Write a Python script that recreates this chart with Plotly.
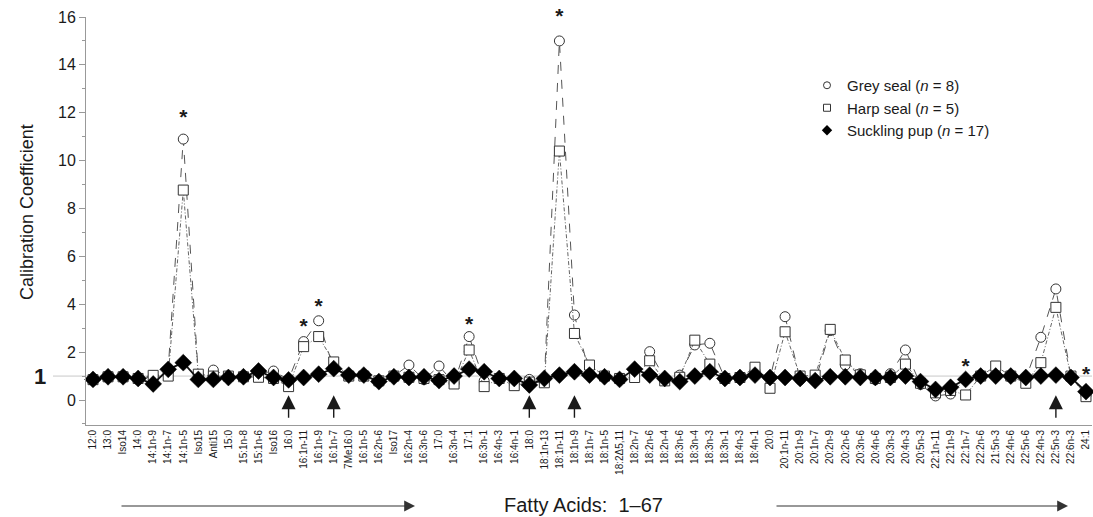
import plotly.graph_objects as go

fatty_acids = ["12:0", "13:0", "Iso14", "14:0", "14:1n-9", "14:1n-7", "14:1n-5", "Iso15", "Anti15", "15:0",
               "15:1n-8", "15:1n-6", "Iso16", "16:0", "16:1n-11", "16:1n-9", "16:1n-7", "7Me16:0", "16:1n-5", "16:2n-6",
               "Iso17", "16:2n-4", "16:3n-6", "17:0", "16:3n-4", "17:1", "16:3n-1", "16:4n-3", "16:4n-1", "18:0",
               "18:1n-13", "18:1n-11", "18:1n-9", "18:1n-7", "18:1n-5", "18:2Δ5,11", "18:2n-7", "18:2n-6", "18:2n-4", "18:3n-6",
               "18:3n-4", "18:3n-3", "18:3n-1", "18:4n-3", "18:4n-1", "20:0", "20:1n-11", "20:1n-9", "20:1n-7", "20:2n-9",
               "20:2n-6", "20:3n-6", "20:4n-6", "20:3n-3", "20:4n-3", "20:5n-3", "22:1n-11", "22:1n-9", "22:1n-7", "22:2n-6",
               "21:5n-3", "22:4n-6", "22:5n-6", "22:4n-3", "22:5n-3", "22:6n-3", "24:1"]

grey_seal = [0.85, 0.97, 0.97, 0.85, 1.0, 1.3, 10.9, 1.05, 1.25, 1.0,
             0.97, 1.1, 1.21, 0.85, 2.44, 3.31, 1.3, 1.0, 1.0, 0.75,
             1.0, 1.46, 0.85, 1.42, 0.7, 2.65, 0.8, 0.9, 0.7, 0.86,
             0.8, 15.0, 3.55, 1.1, 1.0, 0.9, 1.1, 2.02, 0.9, 1.04,
             2.3, 2.37, 0.9, 0.94, 1.2, 0.92, 3.48, 0.85, 0.8, 2.9,
             1.46, 1.1, 0.85, 1.1, 2.09, 0.65, 0.17, 0.25, 0.86, 1.0,
             1.1, 1.0, 0.9, 2.62, 4.64, 1.0, 0.2]

harp_seal = [0.85, 0.97, 0.97, 0.9, 1.03, 1.0, 8.77, 1.08, 1.0, 1.0,
             0.97, 0.95, 0.9, 0.56, 2.23, 2.65, 1.59, 1.0, 1.0, 0.8,
             1.0, 0.95, 0.9, 0.85, 0.67, 2.09, 0.56, 0.9, 0.6, 0.75,
             0.72, 10.4, 2.78, 1.46, 1.0, 0.9, 0.94, 1.64, 0.8, 0.95,
             2.5, 1.5, 0.9, 0.94, 1.37, 0.49, 2.85, 1.0, 1.04, 2.95,
             1.67, 1.05, 0.9, 0.94, 1.5, 0.7, 0.3, 0.4, 0.21, 1.0,
             1.42, 1.0, 0.7, 1.56, 3.87, 1.0, 0.14]

suckling_pup = [0.86, 0.97, 0.97, 0.9, 0.67, 1.28, 1.56, 0.86, 0.86, 0.94,
                0.97, 1.21, 0.94, 0.84, 0.94, 1.08, 1.31, 1.04, 1.04, 0.77,
                0.97, 0.94, 0.97, 0.81, 1.0, 1.29, 1.18, 0.9, 0.9, 0.63,
                0.9, 1.04, 1.18, 1.04, 0.97, 0.86, 1.29, 1.04, 0.9, 0.77,
                1.0, 1.18, 0.9, 0.94, 1.04, 0.94, 0.94, 0.9, 0.81, 0.97,
                0.97, 0.94, 0.94, 0.94, 1.0, 0.77, 0.44, 0.53, 0.86, 1.0,
                1.0, 1.0, 0.94, 1.0, 1.04, 0.94, 0.35]

star_acids = ["14:1n-5", "16:1n-11", "16:1n-9", "17:1", "18:1n-11", "22:1n-7", "24:1"]
star_levels = [11.75, 3.0, 3.85, 3.1, 15.95, 1.35, 1.0]

arrow_acids = ["16:0", "16:1n-7", "18:0", "18:1n-9", "22:5n-3"]
arrow_tip, arrow_tail = 0.2, -0.8

y_ticks = [0, 2, 4, 6, 8, 10, 12, 14, 16]

FONT = "Liberation Sans, Arial, Helvetica, sans-serif"
INK = "#1a1a1a"

L, R, T, B = 86, 1, 17, 92
PW = 1093 - L - R
PH = 517 - T - B


def px_x(px):
    return (px - L) / PW


def px_y(py):
    return (517 - B - py) / PH


fig = go.Figure()

fig.add_trace(go.Scatter(
    x=fatty_acids, y=grey_seal, mode="lines+markers", showlegend=False,
    line=dict(color="#555555", width=1, dash="dash"),
    marker=dict(symbol="circle", size=10, color="white", line=dict(color="#333333", width=1)),
    cliponaxis=False))
fig.add_trace(go.Scatter(
    x=fatty_acids, y=harp_seal, mode="lines+markers", showlegend=False,
    line=dict(color="#666666", width=1, dash="4px,2px,1px,2px"),
    marker=dict(symbol="square", size=10, color="white", line=dict(color="#333333", width=1)),
    cliponaxis=False))
fig.add_trace(go.Scatter(
    x=fatty_acids, y=suckling_pup, mode="lines+markers", showlegend=False,
    line=dict(color="#111111", width=1.8),
    marker=dict(symbol="diamond", size=13, color="black", line=dict(color="black", width=0.5)),
    cliponaxis=False))

# stars
fig.add_trace(go.Scatter(
    x=star_acids, y=star_levels, mode="text", text=["<b>*</b>"] * len(star_acids),
    textfont=dict(family=FONT, size=21, color=INK), showlegend=False, cliponaxis=False,
    hoverinfo="skip"))

# legend-only entries (markers only)
fig.add_trace(go.Scatter(x=[None], y=[None], mode="markers", name="Grey seal (<i>n</i> = 8)",
                         marker=dict(symbol="circle", size=7, color="white", line=dict(color="#333", width=1))))
fig.add_trace(go.Scatter(x=[None], y=[None], mode="markers", name="Harp seal (<i>n</i> = 5)",
                         marker=dict(symbol="square", size=7, color="white", line=dict(color="#333", width=1))))
fig.add_trace(go.Scatter(x=[None], y=[None], mode="markers", name="Suckling pup (<i>n</i> = 17)",
                         marker=dict(symbol="diamond", size=8, color="black")))

annotations = []
for fa in arrow_acids:
    idx = fatty_acids.index(fa)
    annotations.append(dict(x=idx, y=arrow_tip, xref="x", yref="y", ax=idx, ay=arrow_tail,
                            axref="x", ayref="y", showarrow=True, arrowhead=2, arrowsize=2,
                            arrowwidth=1.4, arrowcolor=INK, text=""))

# bold "1" label
annotations.append(dict(x=px_x(40), y=1, xref="paper", yref="y", text="<b>1</b>", showarrow=False,
                        xanchor="center", yanchor="middle",
                        font=dict(family=FONT, size=22, color=INK)))
# y-axis title
annotations.append(dict(x=px_x(27), y=px_y(212), xref="paper", yref="paper", text="Calibration Coefficient",
                        textangle=-90, showarrow=False, xanchor="center", yanchor="middle",
                        font=dict(family=FONT, size=18, color=INK)))
# bottom label
annotations.append(dict(x=px_x(583), y=px_y(505), xref="paper", yref="paper",
                        text="Fatty Acids:  1\u201367", showarrow=False,
                        xanchor="center", yanchor="middle",
                        font=dict(family=FONT, size=20, color=INK)))
# bottom arrows
for tip_px, tail_px in [(415, 120), (1068, 775)]:
    annotations.append(dict(x=px_x(tip_px), y=px_y(506), xref="paper", yref="paper",
                            ax=-(tip_px - tail_px), ay=0, showarrow=True, arrowhead=2,
                            arrowsize=1.8, arrowwidth=1.2, arrowcolor="#333", text=""))

fig.update_layout(
    width=1093, height=517,
    margin=dict(l=L, r=R, t=T, b=B, autoexpand=False),
    paper_bgcolor="white", plot_bgcolor="white",
    font=dict(family=FONT, color=INK),
    annotations=annotations,
    shapes=[dict(type="line", xref="paper", yref="y", x0=px_x(53), x1=1, y0=1, y1=1,
                 line=dict(color="#c8c8c8", width=1), layer="below")],
    legend=dict(x=px_x(807), y=px_y(69), xanchor="left", yanchor="top", bgcolor="rgba(0,0,0,0)",
                font=dict(family=FONT, size=15, color=INK), itemwidth=30, tracegroupgap=0),
    showlegend=True,
)

fig.update_xaxes(
    type="category", range=[-0.465, 66.4], showgrid=False, zeroline=False, automargin=False,
    showline=True, linecolor="#999999", linewidth=1,
    tickangle=-90, tickfont=dict(family=FONT, size=10, color=INK), ticks="",
)
fig.update_yaxes(
    range=[-1.044, 16.0], showgrid=False, zeroline=False, automargin=False,
    showline=True, linecolor="#999999", linewidth=1,
    tickvals=y_ticks, ticks="outside", ticklen=6, tickcolor="#999999",
    tickfont=dict(family=FONT, size=16, color=INK),
    minor=dict(dtick=1, ticks="outside", ticklen=3, tickcolor="#999999"),
)

fig.write_html(
    "out.html",
    config={"displayModeBar": False},
    post_script="document.body.style.margin='0';document.body.style.padding='0';"
                "document.body.style.overflow='hidden';",
)
